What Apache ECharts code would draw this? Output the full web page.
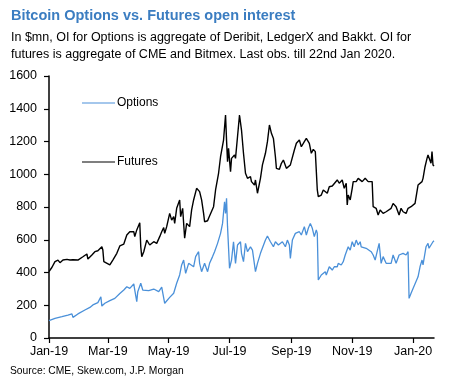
<!DOCTYPE html>
<html>
<head>
<meta charset="utf-8">
<script src="https://cdn.jsdelivr.net/npm/echarts@6/dist/echarts.min.js"></script>
<style>
html,body{margin:0;padding:0;background:#fff;}
#c{width:449px;height:382px;}
</style>
</head>
<body>
<div id="c"></div>
<script>
// ---- data ----
const titleText = 'Bitcoin Options vs. Futures open interest';
const subText = 'In $mn, OI for Options is aggregate of Deribit, LedgerX and Bakkt. OI for\nfutures is aggregate of CME and Bitmex. Last obs. till 22nd Jan 2020.';
const sourceText = 'Source: CME, Skew.com, J.P. Morgan';

const startDate = '2019-01-01';
const endDate = '2020-01-22';
const tickDates = ['2019-01-01','2019-03-01','2019-05-01','2019-07-01','2019-09-01','2019-11-01','2020-01-01'];
const tickLabels = ['Jan-19','Mar-19','May-19','Jul-19','Sep-19','Nov-19','Jan-20'];
const yTicks = [0,200,400,600,800,1000,1200,1400,1600];

const futuresDates = ['2019-01-01','2019-01-04','2019-01-07','2019-01-10','2019-01-12','2019-01-15','2019-01-19','2019-01-22','2019-01-25','2019-01-30',
'2019-02-04','2019-02-08','2019-02-09','2019-02-13','2019-02-16','2019-02-19','2019-02-23','2019-02-24','2019-02-25','2019-02-27',
'2019-03-03','2019-03-06','2019-03-10','2019-03-13','2019-03-17','2019-03-20','2019-03-23','2019-03-27','2019-03-28','2019-03-30',
'2019-04-02','2019-04-03','2019-04-04','2019-04-06','2019-04-09','2019-04-12','2019-04-16','2019-04-19','2019-04-22','2019-04-24','2019-04-26','2019-04-27','2019-04-29',
'2019-05-02','2019-05-04','2019-05-06','2019-05-07','2019-05-09','2019-05-12','2019-05-13','2019-05-15','2019-05-17','2019-05-19','2019-05-21','2019-05-22','2019-05-24','2019-05-26','2019-05-29',
'2019-06-01','2019-06-03','2019-06-05','2019-06-06','2019-06-09','2019-06-10','2019-06-12','2019-06-15','2019-06-17','2019-06-20','2019-06-22','2019-06-23','2019-06-25','2019-06-27','2019-06-28','2019-06-29','2019-06-30',
'2019-07-02','2019-07-03','2019-07-06','2019-07-07','2019-07-09','2019-07-11','2019-07-13','2019-07-15','2019-07-17','2019-07-19','2019-07-22','2019-07-23','2019-07-26','2019-07-27','2019-07-29',
'2019-08-01','2019-08-03','2019-08-06','2019-08-08','2019-08-10','2019-08-12','2019-08-14','2019-08-16','2019-08-17','2019-08-20','2019-08-22','2019-08-24','2019-08-27','2019-08-29','2019-08-31',
'2019-09-02','2019-09-04','2019-09-06','2019-09-09','2019-09-11','2019-09-14','2019-09-16','2019-09-19','2019-09-21','2019-09-23','2019-09-25','2019-09-27','2019-09-28',
'2019-10-01','2019-10-03','2019-10-05','2019-10-07','2019-10-09','2019-10-12','2019-10-14','2019-10-17','2019-10-19','2019-10-22','2019-10-24','2019-10-26','2019-10-27','2019-10-28','2019-10-30',
'2019-11-01','2019-11-02','2019-11-05','2019-11-07','2019-11-11','2019-11-14','2019-11-17','2019-11-19','2019-11-21','2019-11-22','2019-11-25','2019-11-27','2019-11-29',
'2019-12-02','2019-12-05','2019-12-07','2019-12-10','2019-12-12','2019-12-15','2019-12-17','2019-12-18','2019-12-20','2019-12-22','2019-12-25','2019-12-27','2019-12-30',
'2020-01-01','2020-01-03','2020-01-06','2020-01-08','2020-01-10','2020-01-11','2020-01-13','2020-01-15','2020-01-16','2020-01-18','2020-01-19','2020-01-20','2020-01-21','2020-01-22'];
const futuresValues = [405,432,466,476,460,476,480,476,478,476,
496,513,482,507,527,533,557,537,466,460,
446,476,517,562,574,629,649,649,619,660,
704,557,497,527,598,568,588,578,619,649,674,639,680,
761,720,741,700,792,843,741,792,609,700,710,680,782,843,914,
894,843,761,710,716,731,741,802,904,1006,1107,1118,1209,1362,1209,1077,1158,
1016,1097,1118,1097,1229,1362,1270,1128,1006,975,985,955,934,965,884,
975,1057,1128,1199,1301,1250,1219,1107,1036,1030,1067,1087,1036,1046,1057,
1067,1148,1189,1209,1168,1199,1219,1189,1128,1152,1138,904,863,
873,904,914,884,924,928,920,965,945,965,914,945,812,873,843,
914,955,955,975,955,975,955,965,955,802,792,751,782,
761,771,761,792,822,802,812,751,792,771,761,792,802,
802,822,934,934,955,975,1046,1097,1118,1128,1067,1138,1057,1050];

const optionsDates = ['2019-01-01','2019-01-07','2019-01-14','2019-01-20','2019-01-24','2019-01-25','2019-01-30',
'2019-02-06','2019-02-11','2019-02-14','2019-02-16','2019-02-19','2019-02-22','2019-02-23','2019-02-26',
'2019-03-03','2019-03-08','2019-03-13','2019-03-17','2019-03-20','2019-03-23','2019-03-27','2019-03-28','2019-03-30','2019-03-31',
'2019-04-03','2019-04-05','2019-04-07','2019-04-11','2019-04-16','2019-04-21','2019-04-24','2019-04-26','2019-04-27','2019-04-29',
'2019-05-02','2019-05-06','2019-05-09','2019-05-12','2019-05-14','2019-05-16','2019-05-18','2019-05-21','2019-05-23','2019-05-26','2019-05-28','2019-05-31',
'2019-06-01','2019-06-03','2019-06-06','2019-06-09','2019-06-11','2019-06-14','2019-06-16','2019-06-19','2019-06-22','2019-06-24','2019-06-26','2019-06-27','2019-06-28','2019-06-29',
'2019-07-01','2019-07-03','2019-07-05','2019-07-07','2019-07-09','2019-07-12','2019-07-13','2019-07-15','2019-07-17','2019-07-19','2019-07-22','2019-07-24','2019-07-27','2019-07-29',
'2019-08-01','2019-08-03','2019-08-06','2019-08-08','2019-08-11','2019-08-12','2019-08-14','2019-08-16','2019-08-19','2019-08-21','2019-08-23','2019-08-26','2019-08-28','2019-08-30','2019-08-31',
'2019-09-02','2019-09-05','2019-09-07','2019-09-09','2019-09-11','2019-09-14','2019-09-16','2019-09-18','2019-09-20','2019-09-22','2019-09-24','2019-09-26','2019-09-27','2019-09-28',
'2019-10-01','2019-10-03','2019-10-05','2019-10-06','2019-10-09','2019-10-12','2019-10-14','2019-10-17','2019-10-18','2019-10-21','2019-10-23','2019-10-25','2019-10-26','2019-10-28','2019-10-30',
'2019-11-01','2019-11-03','2019-11-05','2019-11-07','2019-11-09','2019-11-10','2019-11-12','2019-11-15','2019-11-17','2019-11-20','2019-11-22','2019-11-24','2019-11-26','2019-11-28','2019-11-30',
'2019-12-02','2019-12-05','2019-12-07','2019-12-10','2019-12-12','2019-12-15','2019-12-17','2019-12-18','2019-12-20','2019-12-22','2019-12-25','2019-12-27','2019-12-28','2019-12-30',
'2020-01-01','2020-01-03','2020-01-06','2020-01-08','2020-01-10','2020-01-11','2020-01-14','2020-01-16','2020-01-17','2020-01-19','2020-01-21','2020-01-22'];
const optionsValues = [106,120,130,139,147,126,147,
171,187,202,195,216,252,195,212,
228,242,272,293,313,303,330,293,222,283,
334,293,303,289,299,283,310,303,212,222,
248,273,334,385,446,476,395,456,466,435,497,527,
456,405,456,405,456,497,527,578,639,700,832,761,853,680,
426,476,588,456,568,588,517,466,578,527,557,537,405,456,
517,527,598,623,588,578,557,588,568,578,588,557,598,568,486,
598,639,629,649,629,680,629,670,700,670,619,660,639,354,
385,395,405,385,435,415,435,435,456,446,466,507,497,557,537,
588,557,598,568,588,557,557,548,537,527,507,476,527,578,456,
497,456,466,456,507,456,446,507,497,517,507,527,242,273,
303,313,374,435,476,446,557,578,548,568,588,594];

// ---- build daily category axis ----
function fmt(d){
  const m = d.getUTCMonth()+1, dd = d.getUTCDate();
  return d.getUTCFullYear()+'-'+(m<10?'0':'')+m+'-'+(dd<10?'0':'')+dd;
}
const categories = [];
(function(){
  const s = new Date(startDate+'T00:00:00Z'), e = new Date(endDate+'T00:00:00Z');
  for(let t = s.getTime(); t <= e.getTime(); t += 86400000){ categories.push(fmt(new Date(t))); }
})();
const tickMap = {};
tickDates.forEach((d,i)=>{ tickMap[d] = tickLabels[i]; });

const futuresData = futuresDates.map((d,i)=>[d, futuresValues[i]]);
const optionsData = optionsDates.map((d,i)=>[d, optionsValues[i]]);

const FONT = '"Liberation Sans", Arial, Helvetica, sans-serif';
const legendIcon = 'path://M0,4.5 L33,4.5 L33,5.5 L0,5.5 Z';
const chart = echarts.init(document.getElementById('c'), null, {renderer:'canvas'});
chart.setOption({
  animation:false,
  backgroundColor:'#ffffff',
  title:[
    {text:titleText, left:6, top:3, textStyle:{fontFamily:FONT, fontSize:14.5, fontWeight:'bold', color:'#3b7dc1'}},
    {text:subText, left:6, top:24, textStyle:{fontFamily:FONT, fontSize:12.5, fontWeight:'normal', color:'#000', lineHeight:17}},
    {text:sourceText, left:5, top:361, textStyle:{fontFamily:FONT, fontSize:10.3, fontWeight:'normal', color:'#000'}}
  ],
  legend:[
    {data:['Options'], left:82, top:97, padding:0, orient:'vertical', itemWidth:33, itemHeight:10, icon:legendIcon, textStyle:{fontFamily:FONT, fontSize:12, color:'#000', padding:[0,0,0,-3]}},
    {data:['Futures'], left:82, top:156, padding:0, orient:'vertical', itemWidth:33, itemHeight:10, icon:legendIcon, textStyle:{fontFamily:FONT, fontSize:12, color:'#000', padding:[0,0,0,-3]}}
  ],
  grid:{left:49, right:15, top:76, bottom:44, containLabel:false},
  xAxis:{
    type:'category', data:categories, boundaryGap:false,
    axisLine:{lineStyle:{color:'#000', width:1.5}},
    axisTick:{show:true, length:5, lineStyle:{color:'#000', width:1.2}, interval:(i,v)=>tickMap[v]!==undefined},
    axisLabel:{interval:(i,v)=>tickMap[v]!==undefined, formatter:(v)=>tickMap[v]||'', fontFamily:FONT, fontSize:12.5, color:'#000', margin:7},
    splitLine:{show:false}
  },
  yAxis:{
    type:'value', min:yTicks[0], max:yTicks[yTicks.length-1], interval:yTicks[1]-yTicks[0],
    axisLine:{show:true, lineStyle:{color:'#000', width:1.5}},
    axisTick:{show:true, length:5, lineStyle:{color:'#000', width:1.2}},
    axisLabel:{fontFamily:FONT, fontSize:12.5, color:'#000', margin:12, formatter:(v)=>String(v)},
    splitLine:{show:false}
  },
  series:[
    {name:'Options', type:'line', data:optionsData, symbol:'none', lineStyle:{color:'#4a90d9', width:1.3}, itemStyle:{color:'#4a90d9'}},
    {name:'Futures', type:'line', data:futuresData, symbol:'none', lineStyle:{color:'#000', width:1.4}, itemStyle:{color:'#000'}}
  ]
});
</script>
</body>
</html>
